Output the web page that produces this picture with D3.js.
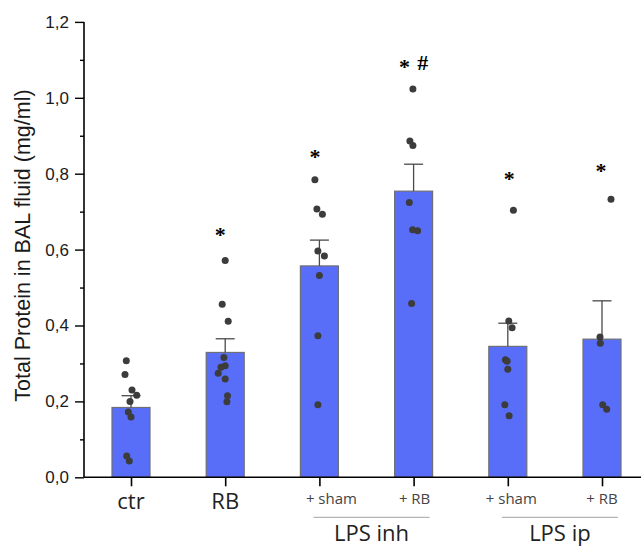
<!DOCTYPE html>
<html>
<head>
<meta charset="utf-8">
<script src="https://cdn.jsdelivr.net/npm/d3@7/dist/d3.min.js"></script>
<style>
  html, body { margin: 0; padding: 0; background: #fff; }
  svg { display: block; }
</style>
</head>
<body>
<svg id="chart" width="641" height="547"></svg>
<script>
// ---- data ----
const groups = ["ctr", "RB", "inh_sham", "inh_RB", "ip_sham", "ip_RB"];
const groupLabels = ["ctr", "RB", "+ sham", "+ RB", "+ sham", "+ RB"];
const means = [0.184, 0.329, 0.557, 0.754, 0.345, 0.364];
const sem = [0.031, 0.036, 0.068, 0.071, 0.061, 0.101];
const pts_ctr = [0.307, 0.271, 0.230, 0.216, 0.200, 0.172, 0.159, 0.056, 0.043];
const pts_RB = [0.571, 0.456, 0.411, 0.316, 0.294, 0.290, 0.274, 0.259, 0.215, 0.199];
const pts_inh_sham = [0.784, 0.707, 0.693, 0.596, 0.583, 0.532, 0.373, 0.191];
const pts_inh_RB = [1.023, 0.886, 0.874, 0.724, 0.652, 0.650, 0.458];
const pts_ip_sham = [0.704, 0.412, 0.394, 0.310, 0.306, 0.285, 0.191, 0.162];
const pts_ip_RB = [0.733, 0.370, 0.353, 0.191, 0.179];
const significance = ["", "*", "*", "* #", "*", "*"];
const sigLevel = [null, 0.650, 0.854, 1.092, 0.797, 0.818];
const superGroups = ["LPS inh", "LPS ip"];
const superMembers = [["inh_sham", "inh_RB"], ["ip_sham", "ip_RB"]];
const yTicks = [0, 0.2, 0.4, 0.6, 0.8, 1.0, 1.2];
const yMinorTicks = [0.1, 0.3, 0.5, 0.7, 0.9, 1.1];
const yTitle = "Total Protein in BAL fluid (mg/ml)";

// ---- layout / style (not data) ----
const points = [pts_ctr, pts_RB, pts_inh_sham, pts_inh_RB, pts_ip_sham, pts_ip_RB];
const jitter = [
  [-4.7, -6, 1, 5.7, -1, -2.7, 0, -4.3, -1.7],
  [0, -3, 3, -1.3, 0, -4.3, -7, 0, 2.3, 1.7],
  [-4.5, -2.5, 3, -1.5, 5, 0, -1.5, -1.5],
  [-0.7, -3.7, -0.7, -4.3, -1, 4, -2],
  [5.6, 1, 4.3, -2.4, -0.7, 0, -3, 1.3],
  [9, -2, -1.7, 0.7, 4.7]
];
const sigDx = [0, -5, -4.5, 0, 1.5, -1];
const labelDx = [0, 0, 12, 1, 3.5, 0];
const barW = 38;
const capW = 19;
const barFill = "#586ef9";
const barStroke = "#6f6f78";
const dotColor = "#3c3c3c";

const svg = d3.select("#chart");
const x = d3.scalePoint().domain(groups).range([131, 602]);
const y = d3.scaleLinear().domain([0, 1.2]).range([477.3, 21.9]);
const axisX0 = 84, axisY0 = y(0);

// bars
svg.append("g").selectAll("rect").data(groups).join("rect")
  .attr("x", d => x(d) - barW / 2)
  .attr("y", (d, i) => y(means[i]))
  .attr("width", barW)
  .attr("height", (d, i) => y(0) - y(means[i]))
  .attr("fill", barFill)
  .attr("stroke", barStroke)
  .attr("stroke-width", 1.2);

// error bars
const eg = svg.append("g").attr("stroke", "#4a4a4a").attr("stroke-width", 1.3);
groups.forEach((g, i) => {
  eg.append("line").attr("x1", x(g)).attr("x2", x(g))
    .attr("y1", y(means[i])).attr("y2", y(means[i] + sem[i]));
  eg.append("line").attr("x1", x(g) - capW / 2).attr("x2", x(g) + capW / 2)
    .attr("y1", y(means[i] + sem[i])).attr("y2", y(means[i] + sem[i]));
});

// dots
const dg = svg.append("g").attr("fill", dotColor);
groups.forEach((g, i) => {
  dg.selectAll(null).data(points[i]).join("circle")
    .attr("cx", (v, j) => x(g) + jitter[i][j])
    .attr("cy", v => y(v))
    .attr("r", 3.5);
});

// y axis
const yAxis = d3.axisLeft(y).tickValues(yTicks).tickSize(9).tickPadding(6)
  .tickFormat(d => d3.format(".1f")(d).replace(".", ","));
const ya = svg.append("g").attr("transform", `translate(${axisX0},0)`).call(yAxis);
ya.select(".domain").attr("stroke", "#000").attr("stroke-width", 1.6)
  .attr("d", `M0,${y(1.2)}V${y(0)}`);
ya.selectAll(".tick line").attr("stroke", "#000").attr("stroke-width", 1.4);
ya.selectAll(".tick text").attr("font-family", "Liberation Sans, Arial, sans-serif")
  .attr("font-size", 17).attr("fill", "#1a1a1a");
const yMinor = d3.axisLeft(y).tickValues(yMinorTicks).tickSize(4).tickFormat("");
const ym = svg.append("g").attr("transform", `translate(${axisX0},0)`).call(yMinor);
ym.select(".domain").remove();
ym.selectAll(".tick line").attr("stroke", "#000").attr("stroke-width", 1.4);

// x axis
const xAxis = d3.axisBottom(x).tickSize(9).tickFormat("");
const xa = svg.append("g").attr("transform", `translate(0,${axisY0})`).call(xAxis);
xa.select(".domain").attr("stroke", "#000").attr("stroke-width", 1.6)
  .attr("d", `M${axisX0},0H641`);
xa.selectAll(".tick line").attr("stroke", "#000").attr("stroke-width", 1.6);

// x labels
groups.forEach((g, i) => {
  const big = i < 2;
  svg.append("text")
    .attr("x", x(g) + labelDx[i])
    .attr("y", big ? 509 : 503.5)
    .attr("text-anchor", "middle")
    .attr("font-family", "Open Sans, sans-serif")
    .attr("font-size", big ? 22 : 15)
    .attr("fill", big ? "#222" : "#444")
    .text(groupLabels[i]);
});

// super group lines + labels
superGroups.forEach((s, k) => {
  const a = x(superMembers[k][0]), b = x(superMembers[k][1]);
  svg.append("line").attr("x1", a - 6).attr("x2", b + 16)
    .attr("y1", 517.3).attr("y2", 517.3)
    .attr("stroke", "#b5b5b5").attr("stroke-width", 1.2);
  svg.append("text").attr("x", (a - 6 + b + 16) / 2).attr("y", 541)
    .attr("text-anchor", "middle")
    .attr("font-family", "Open Sans, sans-serif")
    .attr("font-size", 22).attr("fill", "#222")
    .text(s);
});

// significance marks
groups.forEach((g, i) => {
  if (!significance[i]) return;
  const toks = significance[i].split(" ");
  const spacing = 18.3;
  toks.forEach((t, k) => {
    const cx = x(g) + sigDx[i] + (k - (toks.length - 1) / 2) * spacing;
    const cy = y(sigLevel[i]);
    svg.append("text")
      .attr("x", cx)
      .attr("y", t === "*" ? cy + 11 : cy + 7.5)
      .attr("text-anchor", "middle")
      .attr("font-family", "Liberation Serif, Times New Roman, serif")
      .attr("font-weight", "bold")
      .attr("font-size", 22)
      .attr("fill", "#000")
      .text(t);
  });
});

// y title
svg.append("text")
  .attr("transform", `translate(30,245.5) rotate(-90)`)
  .attr("text-anchor", "middle")
  .attr("font-family", "Liberation Sans, Arial, sans-serif")
  .attr("font-size", 21.5)
  .attr("fill", "#1a1a1a")
  .text(yTitle);
</script>
</body>
</html>
